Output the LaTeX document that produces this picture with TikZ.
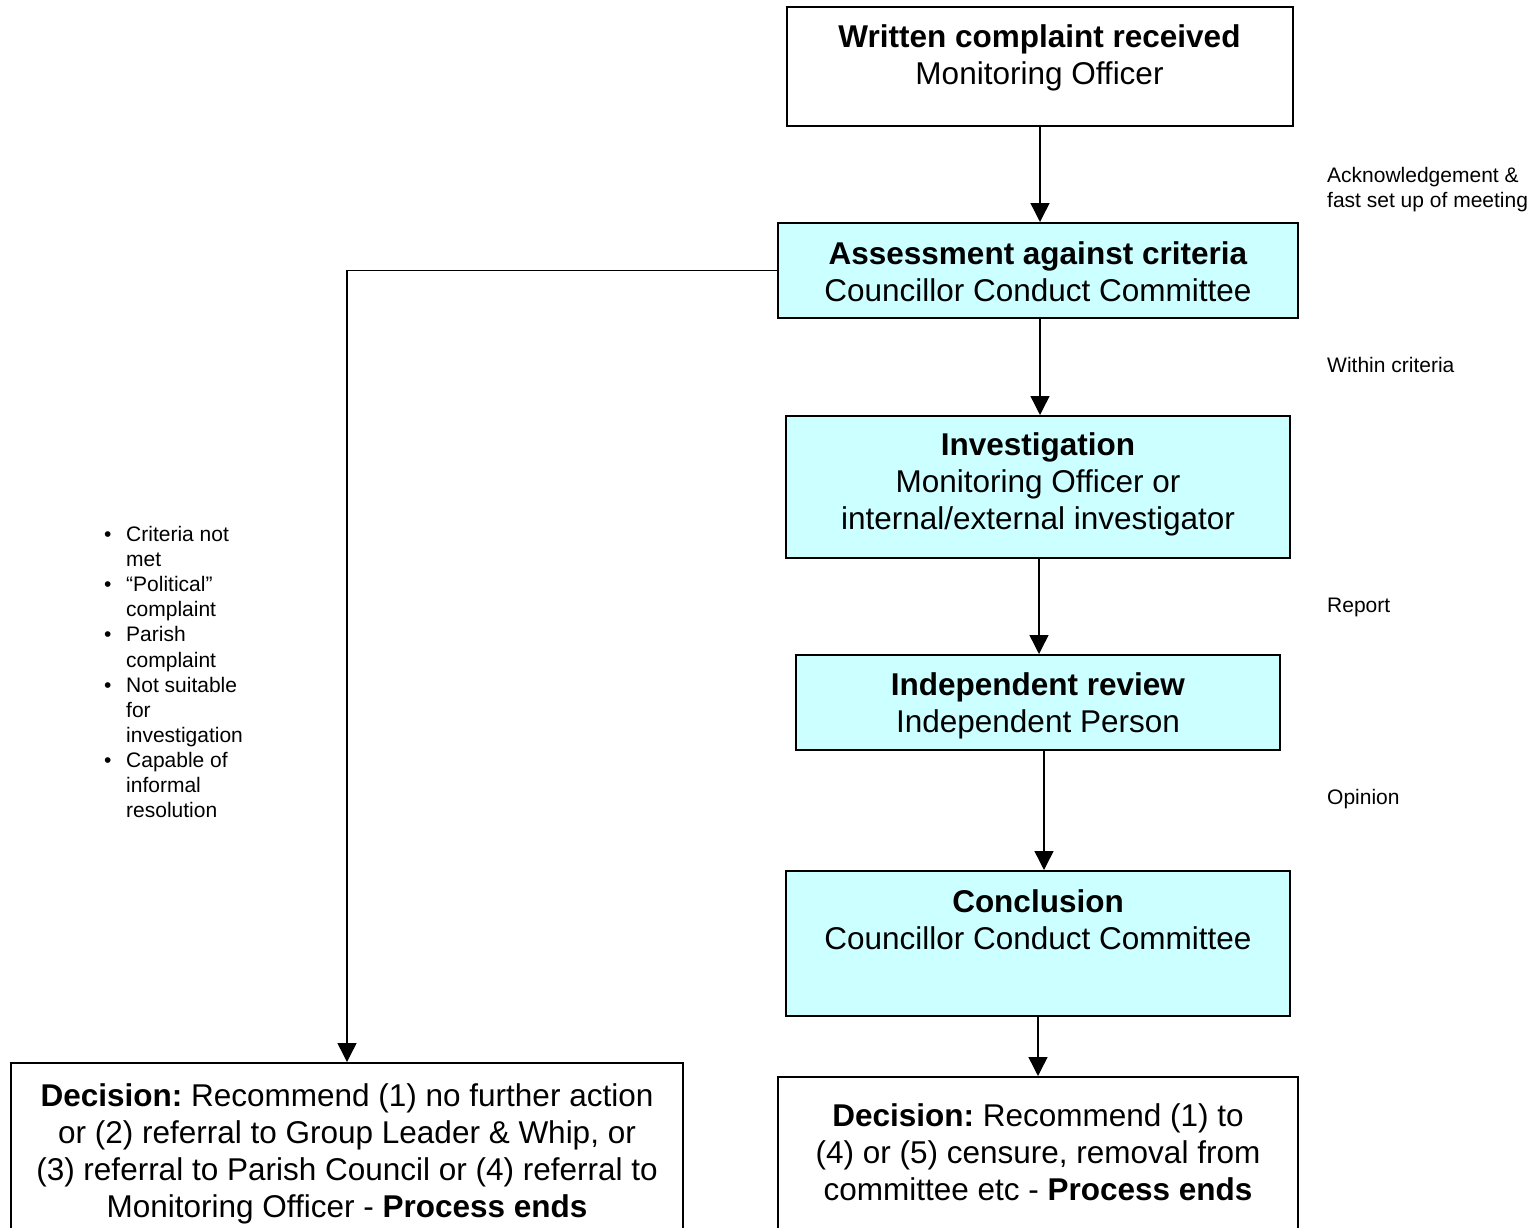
\documentclass[tikz,border=0pt]{standalone}
\usepackage{fontspec}
\setmainfont{Liberation Sans}
\usetikzlibrary{arrows.meta}
\definecolor{boxcyan}{HTML}{CCFFFF}
\frenchspacing
\newcommand{\bigtxt}[1]{\parbox[t]{720pt}{\centering\fontsize{31.5pt}{37pt}\selectfont #1}}
\newcommand{\smalltxt}[1]{\parbox[t]{260pt}{\raggedright\fontsize{21pt}{25.1pt}\selectfont #1}}
\newcommand{\bul}{\makebox[22pt][l]{\raisebox{0pt}{•}}}
\newcommand{\nobul}{\hspace*{22pt}}
\tikzset{
  box/.style={draw=black, line width=2pt, fill=white, inner sep=0pt},
  cbox/.style={box, fill=boxcyan},
  txt/.style={anchor=base, inner sep=0pt},
  lbl/.style={anchor=base west, inner sep=0pt},
  conn/.style={draw=black, line width=1.4pt, -{Triangle[width=19pt,length=19pt]}},
}
\begin{document}
\begin{tikzpicture}[x=1pt,y=-1pt]
\useasboundingbox (0,0) rectangle (1532,1227);
\fill[white] (0,0) rectangle (1532,1227);

% boxes
\node[box,  minimum width=506pt, minimum height=119pt] (b1) at (1040,66.5) {};
\node[cbox, minimum width=520pt, minimum height=95pt]  (b2) at (1038,270.5) {};
\node[cbox, minimum width=504pt, minimum height=142pt] (b3) at (1038,487) {};
\node[cbox, minimum width=484pt, minimum height=95pt]  (b4) at (1038,702.5) {};
\node[cbox, minimum width=504pt, minimum height=145pt] (b5) at (1038,943.5) {};
\node[box,  minimum width=672pt, minimum height=180pt] (b6) at (347,1153) {};
\node[box,  minimum width=520pt, minimum height=166pt] (b7) at (1038,1160) {};

% texts
\node[txt] (t1) at (1039.5,47.5) {\bigtxt{\textbf{Written complaint received}\\Monitoring Officer}};
\node[txt] (t2) at (1038,264.5) {\bigtxt{\textbf{Assessment against criteria}\\Councillor Conduct Committee}};
\node[txt] (t3) at (1038,455.5) {\bigtxt{\textbf{Investigation}\\Monitoring Officer or\\internal/external investigator}};
\node[txt] (t4) at (1038,695.5) {\bigtxt{\textbf{Independent review}\\Independent Person}};
\node[txt] (t5) at (1038,912.5) {\bigtxt{\textbf{Conclusion}\\Councillor Conduct Committee}};
\node[txt] (t6) at (347,1106.5) {\bigtxt{\textbf{Decision:} Recommend (1) no further action\\or (2) referral to Group Leader \& Whip, or\\(3) referral to Parish Council or (4) referral to\\Monitoring Officer - \textbf{Process ends}}};
\node[txt] (t7) at (1038,1126.5) {\bigtxt{\textbf{Decision:} Recommend (1) to\\(4) or (5) censure, removal from\\committee etc - \textbf{Process ends}}};

% side labels
\node[lbl] (l1) at (1327,182.5) {\smalltxt{Acknowledgement \&\\fast set up of meeting}};
\node[lbl] (l2) at (1327,372.5) {\smalltxt{Within criteria}};
\node[lbl] (l3) at (1327,612.5) {\smalltxt{Report}};
\node[lbl] (l4) at (1327,804.5) {\smalltxt{Opinion}};

% bullet list
\node[lbl] (bl) at (104,541.5) {\smalltxt{\bul Criteria not\\\nobul met\\\bul “Political”\\\nobul complaint\\\bul Parish\\\nobul complaint\\\bul Not suitable\\\nobul for\\\nobul investigation\\\bul Capable of\\\nobul informal\\\nobul resolution}};

% connectors
\draw[conn] (b1.south) -- (b1.south |- b2.north);
\draw[conn] ([xshift=2pt]b2.south) -- ([xshift=2pt]b2.south |- b3.north);
\draw[conn] ([xshift=1pt]b3.south) -- ([xshift=1pt]b3.south |- b4.north);
\draw[conn] ([xshift=6pt]b4.south) -- ([xshift=6pt]b4.south |- b5.north);
\draw[conn] (b5.south) -- (b5.south |- b7.north);
\coordinate (corner) at (b6.north |- b2.west);
\draw[conn] (b2.west) -- (corner) -- (b6.north);
\end{tikzpicture}
\end{document}
